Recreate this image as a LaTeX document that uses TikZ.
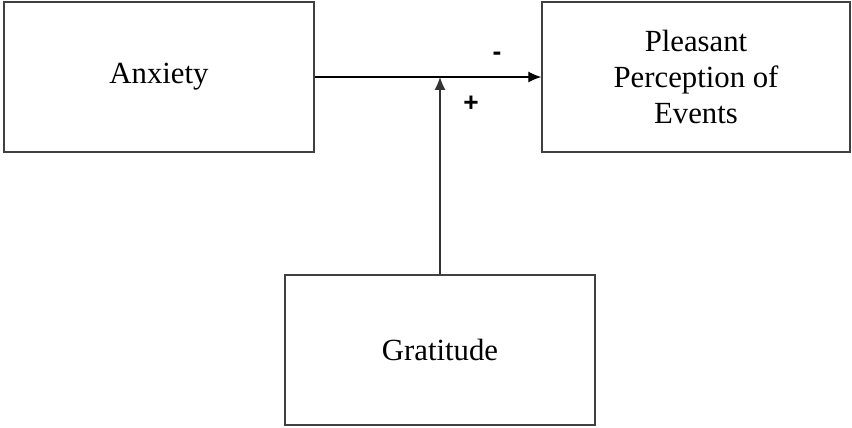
\documentclass[tikz,border=0pt]{standalone}
\usepackage{fontspec}
\usetikzlibrary{arrows.meta}
\setmainfont{Liberation Serif}
\newfontfamily\signfont{Liberation Sans}
\begin{document}
\begin{tikzpicture}
    \useasboundingbox (0,0) rectangle (17.04,8.54);
    \tikzset{box/.style={draw=black!75, line width=0.8pt, minimum width=6.2cm, minimum height=3cm, align=center, font=\fontsize{17.5}{20.5}\selectfont}}
    \tikzset{sign/.style={font=\signfont\bfseries\fontsize{15}{18}\selectfont}}
    \tikzset{link/.style={-{Latex[length=2.6mm,width=2.2mm]}, line width=0.7pt}}
    \node[box] (anx) at (3.18,7.0) {Anxiety};
    \node[box, minimum width=6.16cm] (ppe) at (13.92,7.0) {Pleasant\\Perception of\\Events};
    \node[box] (grat) at (8.80,1.54) {Gratitude};
    \coordinate (mid) at (8.80,7.0);
    \node[sign] (minus) at (9.94,7.42) {-};
    \node[sign] (plus) at (9.42,6.46) {+};
    \draw[link] (anx) -- (ppe);
    \draw[link, black!80] (grat) -- (mid);
  \end{tikzpicture}
\end{document}
